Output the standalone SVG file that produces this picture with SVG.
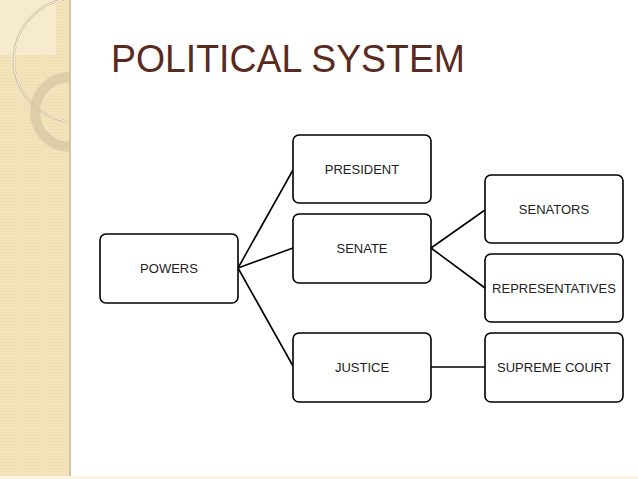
<svg xmlns="http://www.w3.org/2000/svg" width="638" height="479" viewBox="0 0 638 479">
<defs>
<style>
.box{fill:#fff;stroke:#000;stroke-width:1.6}
.lbl{font-family:"Liberation Sans",Arial,sans-serif;font-size:13px;fill:#222;text-anchor:middle;dominant-baseline:central}
.con{stroke:#000;stroke-width:1.6;fill:none}
</style>
<pattern id="dots" width="3" height="3" patternUnits="userSpaceOnUse">
<rect width="3" height="3" fill="#f3e3bb"/>
<rect width="1" height="1" fill="#ead6a6"/>
</pattern>
<clipPath id="band"><rect x="0" y="0" width="70" height="479"/></clipPath>
</defs>
<rect width="638" height="479" fill="#fff"/>
<g id="band-deco">
<rect x="0" y="0" width="70" height="479" fill="url(#dots)"/>
<g clip-path="url(#band)">
<rect x="0" y="0" width="56" height="55" fill="#f6ecd3" opacity="0.8"/>
<circle cx="76" cy="60" r="62" fill="none" stroke="#c9b99a" stroke-width="2.2"/>
<circle cx="76" cy="60" r="62" fill="none" stroke="#fbf6ea" stroke-width="1"/>
<circle cx="70" cy="112" r="35" fill="none" stroke="#d8c7a4" stroke-width="10" opacity="0.8"/>
</g>
<rect x="69" y="0" width="2" height="479" fill="#d4c4a0"/>
</g>
<rect x="0" y="476" width="638" height="3" fill="#fbf3e4"/>
<text id="title" x="111" y="72" font-family="'Liberation Sans',Arial,sans-serif" font-size="38" fill="#5b2a1e" textLength="354" lengthAdjust="spacingAndGlyphs">POLITICAL SYSTEM</text>
<g id="connectors">
<line class="con" x1="238" y1="268" x2="293" y2="170"/>
<line class="con" x1="238" y1="268" x2="293" y2="248"/>
<line class="con" x1="238" y1="268" x2="293" y2="366"/>
<line class="con" x1="431" y1="248" x2="485" y2="210"/>
<line class="con" x1="431" y1="248" x2="485" y2="288"/>
<line class="con" x1="431" y1="367" x2="485" y2="367"/>
</g>
<g id="powers"><rect class="box" x="100" y="234" width="138" height="69" rx="6"/><text class="lbl" x="169" y="268.5">POWERS</text></g>
<g id="president"><rect class="box" x="293" y="135" width="138" height="68" rx="6"/><text class="lbl" x="362" y="169">PRESIDENT</text></g>
<g id="senate"><rect class="box" x="293" y="214" width="138" height="69" rx="6"/><text class="lbl" x="362" y="248">SENATE</text></g>
<g id="justice"><rect class="box" x="293" y="333" width="138" height="69" rx="6"/><text class="lbl" x="362" y="367">JUSTICE</text></g>
<g id="senators"><rect class="box" x="485" y="175" width="138" height="68" rx="6"/><text class="lbl" x="554" y="209">SENATORS</text></g>
<g id="representatives"><rect class="box" x="485" y="254" width="138" height="68" rx="6"/><text class="lbl" x="554" y="288">REPRESENTATIVES</text></g>
<g id="supreme-court"><rect class="box" x="485" y="333" width="138" height="69" rx="6"/><text class="lbl" x="554" y="367">SUPREME COURT</text></g>
</svg>
